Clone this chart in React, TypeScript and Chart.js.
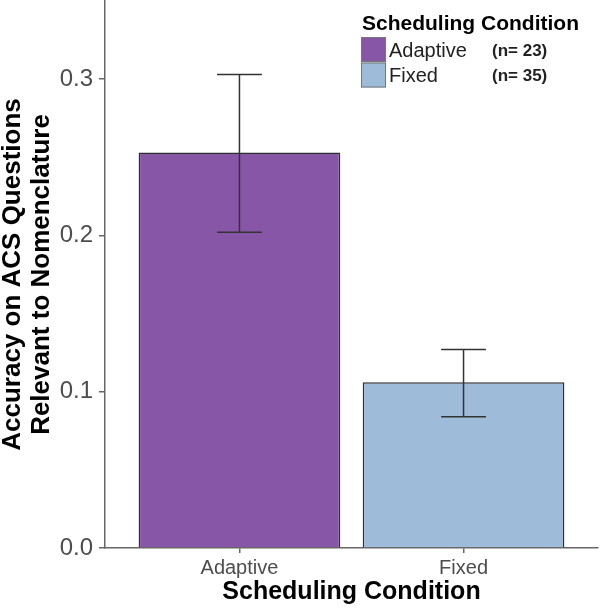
import React, { useEffect, useRef } from "react";
import { Chart, registerables } from "chart.js";

Chart.register(...registerables);

const FONT = "'Liberation Sans', Arial, Helvetica, sans-serif";

const categories = ["Adaptive", "Fixed"];
const xPositions = [1, 2];
const meanAccuracy = [0.253, 0.106];
const errorLower = [0.202, 0.084];
const errorUpper = [0.303, 0.127];
const groupSizes = [23, 35];
const barColors = ["#8856a7", "#9ebcda"];
const yTickValues = [0, 0.1, 0.2, 0.3];
const yTitleLines = ["Accuracy on ACS Questions", "Relevant to Nomenclature"];
const xTitle = "Scheduling Condition";
const legendTitle = "Scheduling Condition";

const errorBarPlugin = {
  id: "errorBars",
  afterDatasetsDraw(chart: any) {
    const { ctx } = chart;
    const x = chart.scales.x;
    const y = chart.scales.y;
    ctx.save();
    ctx.strokeStyle = "#333333";
    ctx.lineWidth = 1.5;
    xPositions.forEach((xv, i) => {
      const px = x.getPixelForValue(xv);
      const half = x.getPixelForValue(xv + 0.1) - px;
      const top = y.getPixelForValue(errorUpper[i]);
      const bot = y.getPixelForValue(errorLower[i]);
      ctx.beginPath();
      ctx.moveTo(px, top);
      ctx.lineTo(px, bot);
      ctx.moveTo(px - half, top);
      ctx.lineTo(px + half, top);
      ctx.moveTo(px - half, bot);
      ctx.lineTo(px + half, bot);
      ctx.stroke();
    });
    ctx.restore();
  },
};

const legendPlugin = {
  id: "customLegend",
  afterDraw(chart: any) {
    const ctx = chart.ctx;
    ctx.save();
    ctx.textAlign = "left";
    ctx.textBaseline = "alphabetic";
    ctx.fillStyle = "#000000";
    ctx.font = `bold 21px ${FONT}`;
    ctx.fillText(legendTitle, 362, 30);
    categories.forEach((c, i) => {
      const top = 37 + i * 25.5;
      ctx.fillStyle = barColors[i];
      ctx.fillRect(361, top, 25, 25);
      ctx.strokeStyle = "#777777";
      ctx.lineWidth = 1;
      ctx.strokeRect(361.5, top + 0.5, 24, 24);
      ctx.fillStyle = "#222222";
      ctx.textBaseline = "middle";
      ctx.font = `20px ${FONT}`;
      ctx.fillText(c, 389, top + 14);
      ctx.font = `bold 17px ${FONT}`;
      ctx.fillText(`(n= ${groupSizes[i]})`, 492, top + 14);
    });
    ctx.restore();
  },
};

export default function App() {
  const canvasRef = useRef<HTMLCanvasElement | null>(null);

  useEffect(() => {
    if (!canvasRef.current) return;
    Chart.defaults.font.family = FONT;
    const chart = new Chart(canvasRef.current, {
      type: "bar",
      data: {
        datasets: [
          {
            label: legendTitle,
            data: xPositions.map((xv, i) => ({ x: xv, y: meanAccuracy[i] })),
            backgroundColor: barColors,
            borderColor: "#2e2e2e",
            borderWidth: 1.5,
            barPercentage: 0.9,
            categoryPercentage: 1,
          },
        ],
      },
      options: {
        animation: false,
        responsive: true,
        maintainAspectRatio: false,
        layout: { padding: { top: 1, right: 2, left: 0, bottom: 0 } },
        plugins: { legend: { display: false }, tooltip: { enabled: false } },
        scales: {
          x: {
            type: "linear",
            offset: false,
            min: 0.4,
            max: 2.6,
            afterBuildTicks: (s: any) => {
              s.ticks = xPositions.map((v) => ({ value: v }));
            },
            afterFit: (s: any) => {
              s.height = 62;
              s.paddingLeft = 0;
              s.paddingRight = 0;
            },
            ticks: {
              callback: (v: any) => categories[xPositions.indexOf(Number(v))] ?? "",
              color: "#4d4d4d",
              font: { family: FONT, size: 20 },
              padding: 3,
              autoSkip: false,
              maxRotation: 0,
            },
            grid: {
              offset: false,
              drawOnChartArea: false,
              drawTicks: true,
              tickLength: 5,
              color: "#666666",
              lineWidth: 1.5,
            },
            border: { display: true, color: "#666666", width: 1.5 },
            title: {
              display: true,
              text: xTitle,
              color: "#000000",
              font: { family: FONT, size: 25, weight: "bold", lineHeight: 1.2 },
              padding: { top: 0, bottom: 3 },
            },
          },
          y: {
            min: 0,
            max: 0.35,
            afterBuildTicks: (s: any) => {
              s.ticks = yTickValues.map((v) => ({ value: v }));
            },
            afterFit: (s: any) => {
              s.width = 105;
              s.paddingTop = 0;
              s.paddingBottom = 0;
            },
            ticks: {
              callback: (v: any) => Number(v).toFixed(1),
              color: "#4d4d4d",
              font: { family: FONT, size: 24 },
              padding: 6,
            },
            grid: { drawOnChartArea: false, drawTicks: true, tickLength: 6, color: "#666666", lineWidth: 1.5 },
            border: { display: true, color: "#666666", width: 1.5 },
            title: {
              display: true,
              text: yTitleLines,
              color: "#000000",
              font: { family: FONT, size: 26, weight: "bold", lineHeight: 1.1 },
              padding: { top: -1, bottom: 0 },
            },
          },
        },
      } as any,
      plugins: [errorBarPlugin, legendPlugin],
    });
    return () => chart.destroy();
  }, []);

  return (
    <div style={{ position: "absolute", left: 0, top: 0, width: 600, height: 610, background: "#ffffff" }}>
      <canvas ref={canvasRef} />
    </div>
  );
}
